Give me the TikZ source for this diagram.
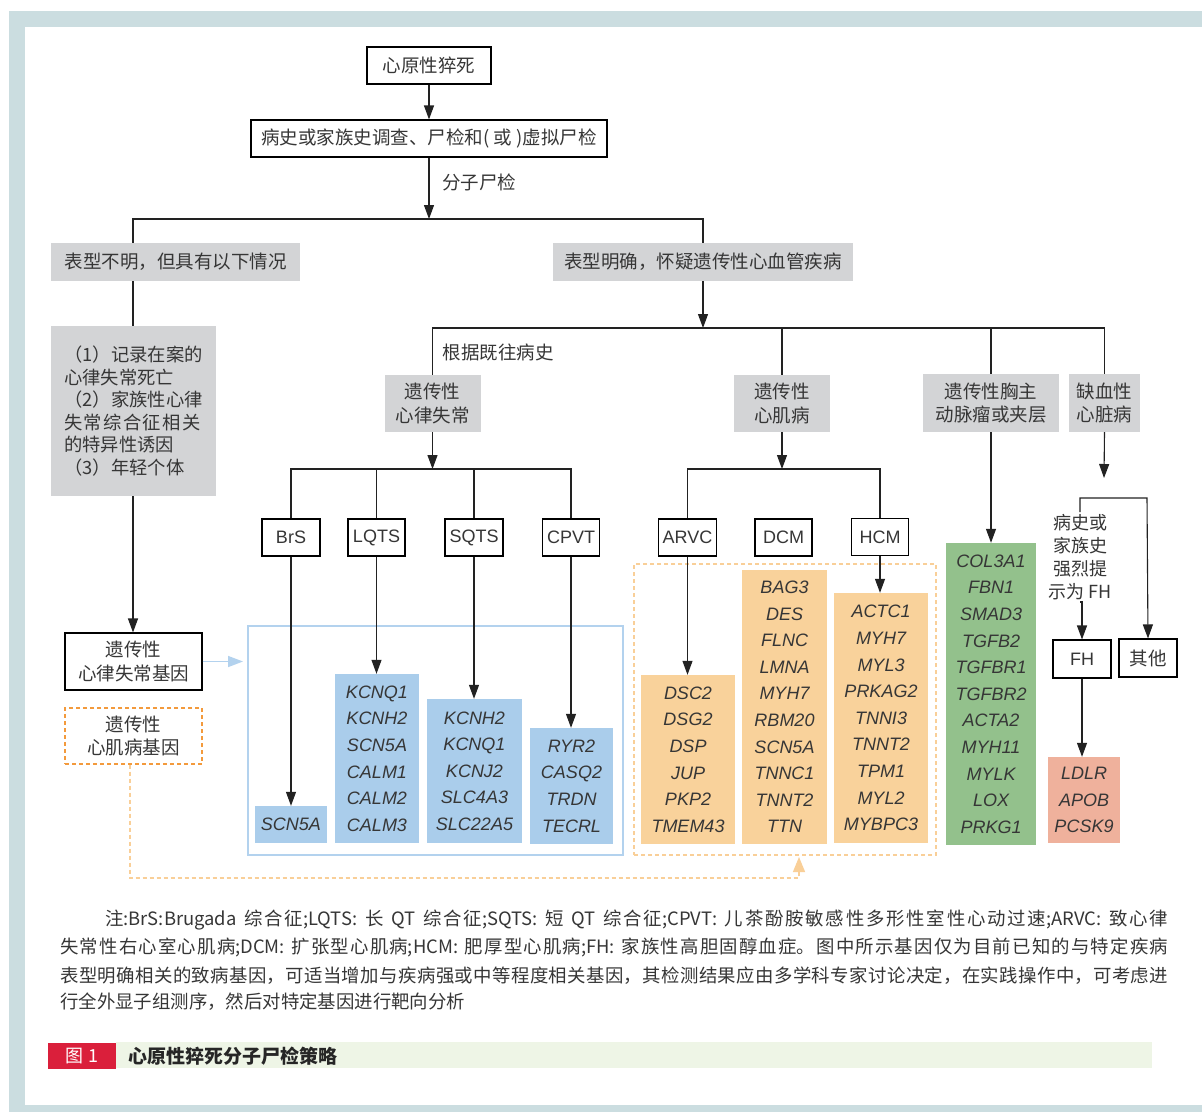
\documentclass[tikz,border=0pt]{standalone}
\usepackage{fontspec}
\setmainfont{Noto Sans CJK SC}
\newfontfamily\myLatin{Liberation Sans}
\usetikzlibrary{arrows.meta,calc}
\XeTeXlinebreaklocale "zh"
\XeTeXlinebreakskip=0pt plus 1pt minus 0.3pt
\definecolor{framec}{HTML}{CBDDE0}
\definecolor{grayf}{HTML}{D3D4D6}
\definecolor{bluef}{HTML}{AACDEB}
\definecolor{blueo}{HTML}{B3D2EE}
\definecolor{orangef}{HTML}{F9D29B}
\definecolor{orangel}{HTML}{F9CF98}
\definecolor{oranged}{HTML}{F39A3C}
\definecolor{greenf}{HTML}{93C18C}
\definecolor{salmonf}{HTML}{EFB19C}
\definecolor{capred}{HTML}{DA1F3B}
\definecolor{capstrip}{HTML}{EEF5E6}
\definecolor{txt}{HTML}{363636}
\definecolor{lnc}{HTML}{222222}
\newcommand{\myCJK}{\fontsize{18.5}{23.5}\selectfont}
\newcommand{\myGene}{\myLatin\itshape\fontsize{18}{26.6}\selectfont}
\newcommand{\myLab}{\myLatin\fontsize{18}{22}\selectfont}
\newcommand{\myNote}{\fontsize{18.4}{28}\selectfont}
\begin{document}
\begin{tikzpicture}[x=1pt,y=-1pt,
  cbox/.style={draw=black, line width=1.1pt, fill=white, text=txt, inner sep=0pt, align=center, font=\myCJK},
  lbox/.style={draw=black, line width=1.1pt, fill=white, text=txt, inner sep=0pt, align=center, font=\myLab, minimum height=37pt},
  gbox/.style={fill=grayf, text=txt, inner sep=0pt, align=center, font=\myCJK},
  gene/.style={inner sep=0pt, align=center, text=txt, font=\myGene},
  lbl/.style={inner sep=0pt, align=center, text=txt, font=\myCJK},
  ln/.style={draw=lnc, line width=1.1pt},
  arr/.style={draw=lnc, line width=1.1pt, -{Triangle[width=10pt,length=14pt]}}
]
\useasboundingbox (0,0) rectangle (1202,1112);
\fill[framec] (9,11) rectangle (1202,1112);
\fill[white] (25,27) rectangle (1202,1105);

% top
\node[cbox, minimum width=124pt, minimum height=37pt] (n1) at (429,65.5) {心原性猝死};
\node[cbox, minimum width=356pt, minimum height=37pt] (n2) at (429,138.5) {病史或家族史调查、尸检和( 或 )虚拟尸检};
\draw[arr] (n1) -- (n2);
\coordinate (b1) at (429,219);
\draw[arr] (n2.south) -- (b1);
\node[lbl] (mol) at (479,182.5) {分子尸检};

% left branch
\node[gbox, minimum width=249pt, minimum height=38pt] (lf1) at (175.5,262) {表型不明，但具有以下情况};
\node[gbox, minimum width=165pt, minimum height=170pt, align=left, font=\fontsize{18.3}{22.6}\selectfont] (lf2) at (133.5,411)
  {（1）记录在案的\\心律失常死亡\\（2）家族性心律\\\makebox[136pt][s]{失\hfill 常\hfill 综\hfill 合\hfill 征\hfill 相\hfill 关}\\的特异性诱因\\（3）年轻个体};
\coordinate (b1L) at (133,219);
\node[gbox, minimum width=300pt, minimum height=38pt] (rt1) at (703,262) {表型明确，怀疑遗传性心血管疾病};
\draw[ln] (lf1.north -| b1L) -- (b1L) -- (b1L -| rt1.north) -- (rt1.north);
\draw[ln] (lf1.south -| b1L) -- (lf2.north -| b1L);
\node[cbox, minimum width=137pt, minimum height=57pt] (hx) at (133.5,661.5) {遗传性\\心律失常基因};
\node[lbl, draw=oranged, dash pattern=on 4pt off 3pt, line width=1.1pt, minimum width=137pt, minimum height=56pt] (cmg) at (133.5,736) {遗传性\\心肌病基因};
\draw[arr] (lf2.south -| b1L) -- (hx.north -| b1L);

% second level
\coordinate (b2) at (703,328);
\draw[arr] (rt1.south) -- (b2);
\node[gbox, minimum width=96pt, minimum height=57pt] (ar) at (432.5,403.5) {遗传性\\心律失常};
\node[gbox, minimum width=96pt, minimum height=57pt] (cm) at (782,403.5) {遗传性\\心肌病};
\node[gbox, minimum width=136pt, minimum height=58pt] (ao) at (991,403) {遗传性胸主\\动脉瘤或夹层};
\node[gbox, minimum width=71pt, minimum height=58pt] (ih) at (1104.5,403) {缺血性\\心脏病};
\draw[ln] (ar.north) -- (ar.north |- b2) -- (ih.north |- b2) -- (ih.north);
\draw[ln] (cm.north) -- (cm.north |- b2);
\draw[ln] (ao.north) -- (ao.north |- b2);
\node[lbl] (hist) at (498,352) {根据既往病史};

% arrhythmia tree
\node[lbox, minimum width=58pt] (brs) at (291,537.5) {BrS};
\node[lbox, minimum width=57pt] (lqts) at (376.5,537.5) {LQTS};
\node[lbox, minimum width=58pt] (sqts) at (474,537.5) {SQTS};
\node[lbox, minimum width=57pt] (cpvt) at (571,537.5) {CPVT};
\coordinate (b3) at (432.5,469);
\draw[arr] (ar.south) -- (b3);
\draw[ln] (brs.north) -- (brs.north |- b3) -- (cpvt.north |- b3) -- (cpvt.north);
\draw[ln] (lqts.north) -- (lqts.north |- b3);
\draw[ln] (sqts.north) -- (sqts.north |- b3);

\node[draw=blueo, line width=1.3pt, minimum width=375pt, minimum height=229pt, inner sep=0pt] (bluebox) at (435.5,740.5) {};
\node[gene, fill=bluef, minimum width=72pt, minimum height=37pt] (gbrs) at (291,824.5) {SCN5A};
\node[gene, fill=bluef, minimum width=84pt, minimum height=169pt] (glqts) at (377,758.5) {KCNQ1\\KCNH2\\SCN5A\\CALM1\\CALM2\\CALM3};
\node[gene, fill=bluef, minimum width=95pt, minimum height=144pt] (gsqts) at (474.5,771) {KCNH2\\KCNQ1\\KCNJ2\\SLC4A3\\SLC22A5};
\node[gene, fill=bluef, minimum width=83pt, minimum height=116pt] (gcpvt) at (571.5,786) {RYR2\\CASQ2\\TRDN\\TECRL};
\draw[arr] (brs.south) -- (brs.south |- gbrs.north);
\draw[arr] (lqts.south) -- (lqts.south |- glqts.north);
\draw[arr] (sqts.south) -- (sqts.south |- gsqts.north);
\draw[arr] (cpvt.south) -- (cpvt.south |- gcpvt.north);

% cardiomyopathy tree
\node[lbox, minimum width=58pt] (arvc) at (687.5,537.5) {ARVC};
\node[lbox, minimum width=57pt] (dcm) at (783.5,537.5) {DCM};
\node[lbox, minimum width=57pt] (hcm) at (880,537) {HCM};
\coordinate (b4) at (782,469);
\draw[arr] (cm.south) -- (b4);
\draw[ln] (arvc.north) -- (arvc.north |- b4) -- (hcm.north |- b4) -- (hcm.north);
\node[draw=orangel, dash pattern=on 4pt off 3pt, line width=1.2pt, minimum width=302pt, minimum height=291pt, inner sep=0pt] (obox) at (785,709.5) {};
\node[gene, fill=orangef, minimum width=94pt, minimum height=169pt] (garvc) at (688,759.5) {DSC2\\DSG2\\DSP\\JUP\\PKP2\\TMEM43};
\node[gene, fill=orangef, minimum width=85pt, minimum height=274pt] (gdcm) at (784.5,707) {BAG3\\DES\\FLNC\\LMNA\\MYH7\\RBM20\\SCN5A\\TNNC1\\TNNT2\\TTN};
\node[gene, fill=orangef, minimum width=94pt, minimum height=250pt] (ghcm) at (881,718) {ACTC1\\MYH7\\MYL3\\PRKAG2\\TNNI3\\TNNT2\\TPM1\\MYL2\\MYBPC3};
\draw[arr] (arvc.south) -- (arvc.south |- garvc.north);
\draw[arr] (hcm.south) -- (hcm.south |- ghcm.north);

% aorta
\node[gene, fill=greenf, minimum width=90pt, minimum height=302pt] (gao) at (991,694) {COL3A1\\FBN1\\SMAD3\\TGFB2\\TGFBR1\\TGFBR2\\ACTA2\\MYH11\\MYLK\\LOX\\PRKG1};
\draw[arr] (ao.south) -- (gao.north);

% ischemic
\coordinate (ihend) at (1104,478);
\draw[arr] (ih.south) -- (ihend);
\node[lbl, fill=white, inner sep=2pt, font=\fontsize{18}{23}\selectfont] (fhtxt) at (1080,557) {病史或\\家族史\\强烈提\\示为 FH};
\node[lbox, minimum width=58pt, minimum height=38pt] (fh) at (1082,659) {FH};
\node[cbox, minimum width=58pt, minimum height=38pt] (oth) at (1148,658) {其他};
\coordinate (b5) at (1147,498);
\draw[arr] (fhtxt.north) -- (fhtxt.north |- b5) -- (b5) -- (oth.north);
\draw[arr] (fhtxt.south) -- (fhtxt.south -| fh.north) -- (fh.north);
\node[gene, fill=salmonf, minimum width=72pt, minimum height=86pt] (gfh) at (1084,800) {LDLR\\APOB\\PCSK9};
\draw[arr] (fh.south) -- (fh.south |- gfh.north);

% links from legend boxes
\coordinate (bt) at (243,661.5);
\draw[draw=blueo, line width=1.5pt, -{Triangle[width=11pt,length=15pt]}] (hx.east) -- (bt);
\coordinate (dc0) at (130,878);
\coordinate (dc1) at (799,878);
\coordinate (dc2) at (799,857);
\draw[draw=orangel, line width=1.3pt, dash pattern=on 4pt off 3pt, -{Triangle[width=12pt,length=15pt]}] (cmg.south -| dc0) -- (dc0) -- (dc1) -- (dc2);

% note
\node[anchor=base west, inner sep=0pt, text=txt, font=\myNote] (note1) at (60,924) {\parbox{1108pt}{\parfillskip=0pt\noindent\hspace*{45pt}注:BrS:Brugada 综合征;LQTS: 长 QT 综合征;SQTS: 短 QT 综合征;CPVT: 儿茶酚胺敏感性多形性室性心动过速;ARVC: 致心律}};
\node[anchor=base west, inner sep=0pt, text=txt, font=\myNote] (note2) at (60,952) {\parbox{1108pt}{\parfillskip=0pt\noindent 失常性右心室心肌病;DCM: 扩张型心肌病;HCM: 肥厚型心肌病;FH: 家族性高胆固醇血症。图中所示基因仅为目前已知的与特定疾病}};
\node[anchor=base west, inner sep=0pt, text=txt, font=\myNote] (note3) at (60,980) {\parbox{1108pt}{\parfillskip=0pt\noindent 表型明确相关的致病基因，可适当增加与疾病强或中等程度相关基因，其检测结果应由多学科专家讨论决定，在实践操作中，可考虑进}};
\node[anchor=base west, inner sep=0pt, text=txt, font=\myNote] (note4) at (60,1008) {行全外显子组测序，然后对特定基因进行靶向分析};

% caption
\fill[capstrip] (116,1042) rectangle (1152,1068);
\node[fill=capred, minimum width=68pt, minimum height=26pt, inner sep=0pt, text=white, font=\fontsize{18}{20}\selectfont] (fig) at (82,1056) {图 1};
\node[anchor=west, inner sep=0pt, text=black!85, font=\fontsize{19}{22}\selectfont\bfseries] (cap) at (128,1056) {心原性猝死分子尸检策略};
\end{tikzpicture}
\end{document}
